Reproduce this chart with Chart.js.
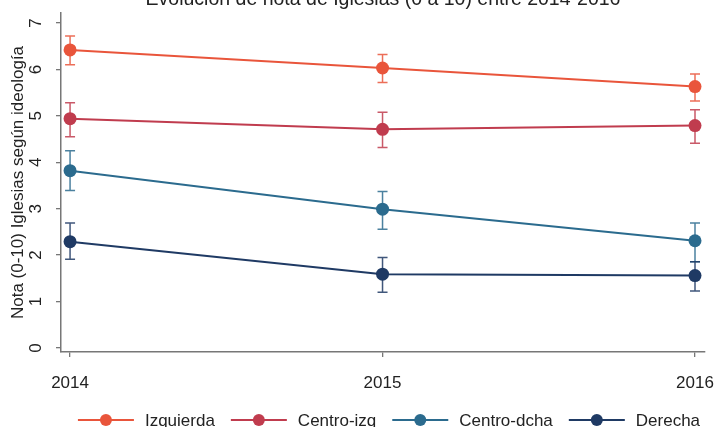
<!DOCTYPE html>
<html>
<head>
<meta charset="utf-8">
<script src="https://cdn.jsdelivr.net/npm/chart.js@4"></script>
<style>
  html, body { margin: 0; padding: 0; background: #fff; }
  #wrap { width: 714px; height: 427px; position: relative; }
</style>
</head>
<body>
<div id="wrap"><canvas id="notaChart"></canvas></div>
<script>
// Datos
const years = [2014, 2015, 2016];
const seriesNames = ["Izquierda", "Centro-izq", "Centro-dcha", "Derecha"];
const seriesColors = ["#e9553b", "#c03c4e", "#2b6b8e", "#1f3a64"];

const izquierda = [6.42, 6.03, 5.63];
const izquierdaLo = [6.10, 5.72, 5.32];
const izquierdaHi = [6.72, 6.32, 5.90];

const centroIzq = [4.94, 4.71, 4.79];
const centroIzqLo = [4.55, 4.32, 4.41];
const centroIzqHi = [5.28, 5.08, 5.13];

const centroDcha = [3.82, 2.99, 2.31];
const centroDchaLo = [3.39, 2.56, 1.86];
const centroDchaHi = [4.25, 3.37, 2.69];

const derecha = [2.29, 1.59, 1.56];
const derechaLo = [1.91, 1.20, 1.23];
const derechaHi = [2.69, 1.95, 1.86];

const yTicks = [0, 1, 2, 3, 4, 5, 6, 7];
const titulo = "Evolución de nota de Iglesias (0 a 10) entre 2014-2016";
const tituloY = "Nota (0-10) Iglesias según ideología";

const valores = [izquierda, centroIzq, centroDcha, derecha];
const bajos = [izquierdaLo, centroIzqLo, centroDchaLo, derechaLo];
const altos = [izquierdaHi, centroIzqHi, centroDchaHi, derechaHi];

const FONT = "'Liberation Sans', Arial, sans-serif";

// Barras de error (intervalos) dibujadas con las escalas del gráfico
const errorBars = {
  id: "errorBars",
  beforeDatasetsDraw(chart) {
    const { ctx, scales } = chart;
    ctx.save();
    chart.data.datasets.forEach((ds, i) => {
      ctx.strokeStyle = seriesColors[i];
      ctx.globalAlpha = 0.85;
      ctx.lineWidth = 1.5;
      years.forEach((yr, j) => {
        const x = scales.x.getPixelForValue(yr);
        const y1 = scales.y.getPixelForValue(bajos[i][j]);
        const y2 = scales.y.getPixelForValue(altos[i][j]);
        ctx.beginPath();
        ctx.moveTo(x, y1); ctx.lineTo(x, y2);
        ctx.moveTo(x - 5, y1); ctx.lineTo(x + 5, y1);
        ctx.moveTo(x - 5, y2); ctx.lineTo(x + 5, y2);
        ctx.stroke();
      });
    });
    ctx.restore();
  },
};

// Título (cortado arriba) y leyenda con línea + marcador
const extras = {
  id: "extras",
  afterDraw(chart) {
    const { ctx, chartArea } = chart;
    const cx = (chartArea.left + chartArea.right) / 2;
    ctx.save();
    ctx.fillStyle = "#222";
    ctx.font = "19.5px " + FONT;
    ctx.textAlign = "center";
    ctx.textBaseline = "alphabetic";
    ctx.fillText(titulo, cx, 5);

    // leyenda
    ctx.font = "17px " + FONT;
    const symW = 56, gap = 11, sep = 16;
    const widths = seriesNames.map((n) => ctx.measureText(n).width);
    const total = widths.reduce((a, w) => a + symW + gap + w, 0) + sep * (seriesNames.length - 1);
    let x = cx - total / 2 + 6;
    const y = 420;
    seriesNames.forEach((n, i) => {
      ctx.strokeStyle = seriesColors[i];
      ctx.fillStyle = seriesColors[i];
      ctx.lineWidth = 2;
      ctx.beginPath();
      ctx.moveTo(x, y); ctx.lineTo(x + symW, y);
      ctx.stroke();
      ctx.beginPath();
      ctx.arc(x + symW / 2, y, 6, 0, Math.PI * 2);
      ctx.fill();
      ctx.fillStyle = "#222";
      ctx.textAlign = "left";
      ctx.textBaseline = "middle";
      ctx.fillText(n, x + symW + gap, y + 1);
      x += symW + gap + widths[i] + sep;
    });
    ctx.restore();
  },
};

const ctx = document.getElementById("notaChart").getContext("2d");

new Chart(ctx, {
  type: "line",
  data: {
    datasets: seriesNames.map((name, i) => ({
      label: name,
      data: years.map((yr, j) => ({ x: yr, y: valores[i][j] })),
      borderColor: seriesColors[i],
      backgroundColor: seriesColors[i],
      borderWidth: 2,
      pointRadius: 6.5,
      pointBorderWidth: 0,
      pointHoverRadius: 6.5,
      tension: 0,
    })),
  },
  options: {
    responsive: true,
    maintainAspectRatio: false,
    animation: false,
    layout: { padding: { top: 13, right: 9, left: 0, bottom: 0 } },
    plugins: {
      legend: { display: false },
      title: { display: false },
      tooltip: { enabled: false },
    },
    scales: {
      x: {
        type: "linear",
        min: 2013.971,
        max: 2016.032,
        afterBuildTicks: (s) => { s.ticks = years.map((v) => ({ value: v })); },
        afterFit: (s) => { s.height = 75; s.paddingLeft = 0; s.paddingRight = 0; },
        grid: { display: true, drawOnChartArea: false, drawTicks: true, tickLength: 5, color: "#777", lineWidth: 1.3 },
        border: { color: "#777", width: 1.5 },
        ticks: {
          color: "#222",
          font: { size: 17, family: FONT },
          padding: 16,
          maxRotation: 0,
          callback: (v) => String(v),
        },
      },
      y: {
        min: -0.086,
        max: 7.215,
        afterBuildTicks: (s) => { s.ticks = yTicks.map((v) => ({ value: v })); },
        afterFit: (s) => { s.width = 61; s.paddingTop = 0; s.paddingBottom = 0; },
        grid: { display: true, drawOnChartArea: false, drawTicks: true, tickLength: 5, color: "#777", lineWidth: 1.3 },
        border: { color: "#777", width: 1.5 },
        title: {
          display: true,
          text: tituloY,
          color: "#222",
          font: { size: 17, family: FONT },
          padding: { top: 8, bottom: 0 },
        },
        ticks: {
          color: "#222",
          font: { size: 17, family: FONT },
          padding: 15,
          minRotation: 90,
          maxRotation: 90,
          crossAlign: "center",
        },
      },
    },
  },
  plugins: [errorBars, extras],
});
</script>
</body>
</html>
